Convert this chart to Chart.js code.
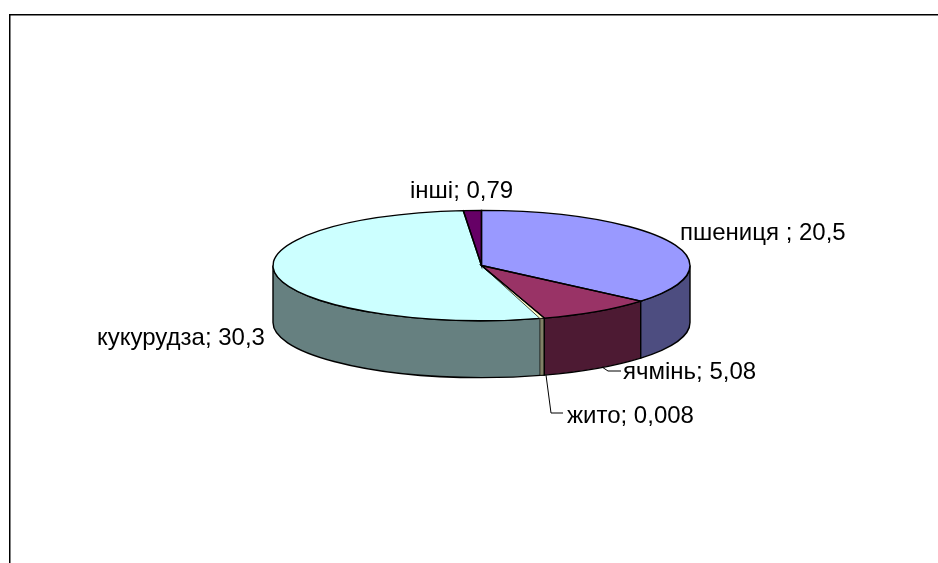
<!DOCTYPE html>
<html lang="uk">
<head>
<meta charset="utf-8">
<title>Кругова діаграма</title>
<script src="https://cdn.jsdelivr.net/npm/chart.js@4"></script>
<style>
  html, body { margin: 0; padding: 0; background: #fff; overflow: hidden; }
  canvas { display: block; }
</style>
</head>
<body>
<canvas id="graficaPastel" width="938" height="563"></canvas>
<script>
// ========== DATA ==========
const categorias = ['пшениця ', 'ячмінь', 'жито', 'кукурудза', 'інші'];
const valores = [20.5, 5.08, 0.008, 30.3, 0.79];
const coloresTapa = ['#9999FF', '#993366', '#FFFFCC', '#CCFFFF', '#660066'];
const coloresPared = ['#4D4D80', '#4D1A33', '#808066', '#668080', '#330033'];

// label anchors (left, baseline), same order as categorias
const posEtiquetas = [[680, 240], [623, 379], [567, 423], [97, 345], [410, 198]];
const guias = [
  [[602, 367], [608, 371], [621, 371]],
  [[546, 375], [551, 413], [563, 413]]
];

// ========== 3D LOOK ==========
const APLASTADO = 55 / 208;   // vertical squash of the pie
const ALTO = 57;              // wall height
const ANCHO_MIN = 0.022;      // thin slices still get a visible wall (radians)

function trazarTapa(ctx, arco, ini, fin) {
  ctx.save();
  ctx.translate(arco.x, arco.y);
  ctx.scale(1, APLASTADO);
  ctx.beginPath();
  ctx.moveTo(0, 0);
  ctx.arc(0, 0, arco.outerRadius, ini, fin);
  ctx.closePath();
  ctx.restore();
}

function trazarPared(ctx, arco, ini, fin) {
  ctx.save();
  ctx.translate(arco.x, arco.y);
  ctx.scale(1, APLASTADO);
  ctx.beginPath();
  ctx.arc(0, 0, arco.outerRadius, ini, fin);
  ctx.arc(0, ALTO / APLASTADO, arco.outerRadius, fin, ini, true);
  ctx.closePath();
  ctx.restore();
}

const pastel3d = {
  id: 'pastel3d',
  beforeDraw(chart) {
    // frame of the original picture, cut at the right and bottom edges
    const ctx = chart.ctx;
    ctx.save();
    ctx.fillStyle = '#fff';
    ctx.fillRect(0, 0, chart.width, chart.height);
    ctx.strokeStyle = '#000';
    ctx.lineWidth = 1.5;
    ctx.beginPath();
    ctx.moveTo(9.75, chart.height);
    ctx.lineTo(9.75, 14.75);
    ctx.lineTo(chart.width, 14.75);
    ctx.stroke();
    ctx.restore();
  },
  beforeDatasetsDraw(chart) {
    const ctx = chart.ctx;
    const arcos = chart.getDatasetMeta(0).data;

    // walls only on the front half, last slice first so the thin one stays on top
    ctx.save();
    ctx.strokeStyle = '#000';
    for (let i = arcos.length - 1; i >= 0; i--) {
      const arco = arcos[i];
      let ini = arco.startAngle;
      let fin = arco.endAngle;
      if (fin - ini < ANCHO_MIN) fin = ini + ANCHO_MIN;
      ini = Math.max(ini, 0);
      fin = Math.min(fin, Math.PI);
      if (fin <= ini) continue;
      trazarPared(ctx, arco, ini, fin);
      ctx.fillStyle = coloresPared[i];
      ctx.fill();
      // thin slices: a fine edge so their colour stays visible
      ctx.lineWidth = i === 2 ? 0.7 : 1.4;
      ctx.stroke();
    }
    ctx.restore();

    // squash the library's arcs into an ellipse
    const a = arcos[0];
    ctx.save();
    ctx.translate(a.x, a.y);
    ctx.scale(1, APLASTADO);
    ctx.translate(-a.x, -a.y);
  },
  afterDatasetsDraw(chart) {
    const ctx = chart.ctx;
    const arcos = chart.getDatasetMeta(0).data;
    ctx.restore();

    // outlines are stroked outside the squash so they keep their width
    ctx.save();
    ctx.strokeStyle = '#000';
    for (let i = arcos.length - 1; i >= 0; i--) {
      const arco = arcos[i];
      let fin = arco.endAngle;
      if (fin - arco.startAngle < ANCHO_MIN) {
        fin = arco.startAngle + ANCHO_MIN;
        trazarTapa(ctx, arco, arco.startAngle, fin);
        ctx.fillStyle = coloresTapa[i];
        ctx.fill();
      }
      trazarTapa(ctx, arco, arco.startAngle, fin);
      ctx.lineWidth = i === 2 ? 0.7 : 1.4;
      ctx.stroke();
    }

    // leader lines
    ctx.lineWidth = 1;
    guias.forEach(guia => {
      ctx.beginPath();
      guia.forEach((p, i) => i ? ctx.lineTo(p[0], p[1]) : ctx.moveTo(p[0], p[1]));
      ctx.stroke();
    });

    // labels
    ctx.fillStyle = '#000';
    ctx.font = '24px "Liberation Sans", Arial, sans-serif';
    ctx.textAlign = 'left';
    ctx.textBaseline = 'alphabetic';
    categorias.forEach((nombre, i) => {
      const texto = nombre + '; ' + String(valores[i]).replace('.', ',');
      ctx.fillText(texto, posEtiquetas[i][0], posEtiquetas[i][1]);
    });
    ctx.restore();
  }
};

// ========== CHART ==========
new Chart(document.getElementById('graficaPastel'), {
  type: 'pie',
  data: {
    labels: categorias,
    datasets: [{
      data: valores,
      backgroundColor: coloresTapa,
      borderWidth: 0,
      clip: false
    }]
  },
  options: {
    responsive: false,
    animation: false,
    layout: { padding: { left: 273, right: 248, top: 57, bottom: 89 } },
    plugins: {
      legend: { display: false },
      tooltip: { enabled: false }
    }
  },
  plugins: [pastel3d]
});
</script>
</body>
</html>
